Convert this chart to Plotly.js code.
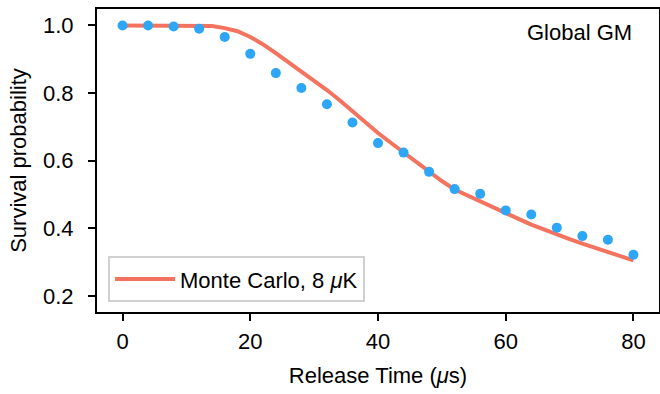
<!DOCTYPE html>
<html>
<head>
<meta charset="utf-8">
<script src="https://cdn.plot.ly/plotly-3.0.1.min.js"></script>
<style>html,body{margin:0;padding:0;background:#fff;}#chart{width:660px;height:394px;}</style>
</head>
<body>
<div id="chart"></div>
<script>
// Experimental data (blue dots)
const expTime = [0,4,8,12,16,20,24,28,32,36,40,44,48,52,56,60,64,68,72,76,80];
const expSurvival = [1.0,1.0,0.997,0.990,0.966,0.916,0.859,0.815,0.767,0.713,0.652,0.624,0.567,0.516,0.502,0.453,0.441,0.402,0.377,0.366,0.322];

// Monte Carlo simulation curve
const mcTime = [0,2,4,6,8,10,12,14,16,18,20,22,24,26,28,30,32,34,36,38,40,42,44,46,48,50,52,54,56,58,60,62,64,66,68,70,72,74,76,78,80];
const mcSurvival = [1.0,1.0,1.0,1.0,1.0,1.0,1.0,0.998,0.992,0.983,0.966,0.944,0.918,0.891,0.865,0.838,0.809,0.779,0.747,0.713,0.682,0.653,0.624,0.596,0.567,0.540,0.515,0.497,0.481,0.462,0.443,0.428,0.411,0.396,0.381,0.368,0.355,0.343,0.331,0.319,0.305];

const xTicks = [0,20,40,60,80];
const yTicks = [0.2,0.4,0.6,0.8,1.0];

const font = "Liberation Sans, Arial, sans-serif";
const fs = 22;

const traces = [
  {
    x: mcTime, y: mcSurvival, mode: 'lines', type: 'scatter',
    name: 'Monte Carlo, 8 <i>μ</i>K',
    line: {color: '#f4735f', width: 4}
  },
  {
    x: expTime, y: expSurvival, mode: 'markers', type: 'scatter',
    name: 'Data', showlegend: false,
    marker: {color: '#2ea6f8', size: 10}
  }
];

const layout = {
  width: 660, height: 394,
  margin: {l: 97, r: 1, t: 9, b: 82},
  paper_bgcolor: '#fff', plot_bgcolor: '#fff',
  font: {family: font, size: fs, color: '#000'},
  showlegend: true,
  legend: {
    x: 0.0196, y: 0.032, xanchor: 'left', yanchor: 'bottom',
    bgcolor: '#fff', bordercolor: '#d0d0d0', borderwidth: 2,
    itemwidth: 60,
    font: {family: font, size: fs, color: '#000'}
  },
  xaxis: {
    range: [-4, 84], tickvals: xTicks, ticktext: xTicks.map(String),
    showgrid: false, zeroline: false, automargin: false,
    showline: true, mirror: true, linecolor: '#000', linewidth: 2,
    ticks: 'outside', ticklen: 7, tickwidth: 2, tickcolor: '#000',
    tickfont: {size: fs}, ticklabelstandoff: 2,
    title: {text: 'Release Time (<i>μ</i>s)', font: {size: fs}, standoff: 14}
  },
  yaxis: {
    range: [0.1526, 1.0486], tickvals: yTicks, ticktext: yTicks.map(v => v.toFixed(1)),
    showgrid: false, zeroline: false, automargin: false,
    showline: true, mirror: true, linecolor: '#000', linewidth: 2,
    ticks: 'outside', ticklen: 7, tickwidth: 2, tickcolor: '#000',
    tickfont: {size: fs}, ticklabelstandoff: 10,
    title: {text: 'Survival probability', font: {size: fs}, standoff: 10}
  },
  annotations: [{
    text: 'Global GM', xref: 'paper', yref: 'paper', x: 0.955, y: 0.921,
    xanchor: 'right', yanchor: 'middle', showarrow: false,
    font: {family: font, size: fs, color: '#000'}
  }]
};

Plotly.newPlot('chart', traces, layout, {displayModeBar: false, staticPlot: true});
</script>
</body>
</html>
